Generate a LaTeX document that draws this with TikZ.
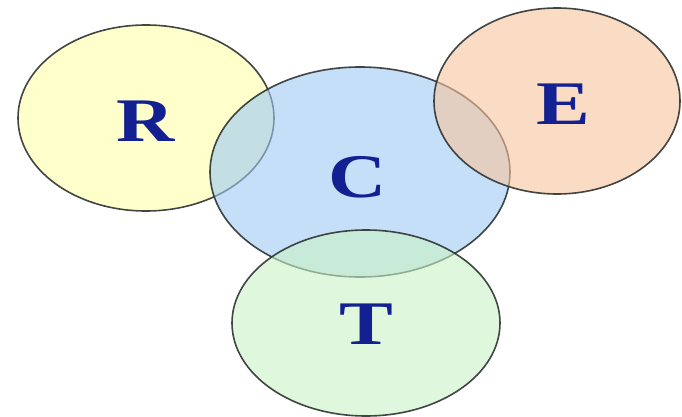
\documentclass[tikz,border=0pt]{standalone}
\usepackage{fontspec}
\setmainfont{Liberation Serif}
\definecolor{rfill}{RGB}{255,255,170}
\definecolor{cfill}{RGB}{158,202,243}
\definecolor{efill}{RGB}{248,197,157}
\definecolor{tfill}{RGB}{203,243,197}
\definecolor{letter}{RGB}{18,32,145}
\definecolor{edge}{RGB}{45,50,50}
\begin{document}
\begin{tikzpicture}[x=1pt,y=-1pt,
  blob/.style={draw=edge,line width=1.6pt,fill opacity=0.6,draw opacity=0.9},
  lbl/.style={text=letter,xscale=1.3,font=\fontsize{62}{64}\selectfont\bfseries}]
\useasboundingbox (0,0) rectangle (682,417);
\fill[white] (0,0) rectangle (682,417);
\draw[blob,fill=rfill] (146,118) ellipse [x radius=128,y radius=93];
\draw[blob,fill=cfill] (360,172) ellipse [x radius=150,y radius=105];
\draw[blob,fill=efill] (557,101) ellipse [x radius=123,y radius=93];
\draw[blob,fill=tfill] (366,323) ellipse [x radius=134,y radius=93];
\node[lbl] (R) at (146,121) {R};
\node[lbl] (C) at (358,177) {C};
\node[lbl] (E) at (563,104) {E};
\node[lbl] (T) at (366,324) {T};
\end{tikzpicture}
\end{document}
